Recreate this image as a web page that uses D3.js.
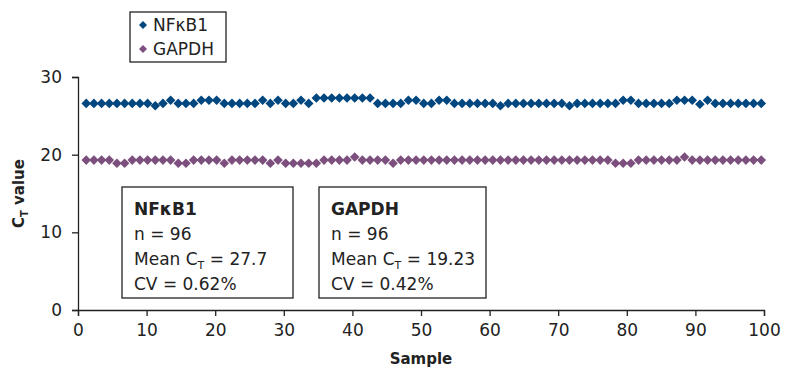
<!DOCTYPE html>
<html>
<head>
<meta charset="utf-8">
<script src="https://cdn.jsdelivr.net/npm/d3@7"></script>
<style>
  body { margin: 0; background: #fff; }
  svg { display: block; font-family: "DejaVu Sans", sans-serif; }
</style>
</head>
<body>
<div id="chart"></div>
<script>
// data: one point per sample, CT values
let nfkb1 = [
    26.6, 26.6, 26.6, 26.6, 26.6, 26.6, 26.6, 26.6, 26.6, 26.3,
    26.6, 27.0, 26.6, 26.6, 26.6, 27.0, 27.0, 27.0, 26.6, 26.6,
    26.6, 26.6, 26.6, 27.0, 26.6, 27.0, 26.6, 26.6, 27.0, 26.6,
    27.3, 27.3, 27.3, 27.3, 27.3, 27.3, 27.3, 27.3, 26.6, 26.6,
    26.6, 26.6, 27.0, 27.0, 26.6, 26.6, 27.0, 27.0, 26.6, 26.6,
    26.6, 26.6, 26.6, 26.6, 26.3, 26.6, 26.6, 26.6, 26.6, 26.6,
    26.6, 26.6, 26.6, 26.3, 26.6, 26.6, 26.6, 26.6, 26.6, 26.6,
    27.0, 27.0, 26.6, 26.6, 26.6, 26.6, 26.6, 27.0, 27.0, 27.0,
    26.5, 27.0, 26.6, 26.6, 26.6, 26.6, 26.6, 26.6, 26.6
];
let gapdh = [
    19.3, 19.3, 19.3, 19.3, 18.9, 18.9, 19.3, 19.3, 19.3, 19.3,
    19.3, 19.3, 18.9, 18.9, 19.3, 19.3, 19.3, 19.3, 18.9, 19.3,
    19.3, 19.3, 19.3, 19.3, 18.9, 19.3, 18.9, 18.9, 18.9, 18.9,
    18.9, 19.3, 19.3, 19.3, 19.3, 19.7, 19.3, 19.3, 19.3, 19.3,
    18.9, 19.3, 19.3, 19.3, 19.3, 19.3, 19.3, 19.3, 19.3, 19.3,
    19.3, 19.3, 19.3, 19.3, 19.3, 19.3, 19.3, 19.3, 19.3, 19.3,
    19.3, 19.3, 19.3, 19.3, 19.3, 19.3, 19.3, 19.3, 19.3, 18.9,
    18.9, 18.9, 19.3, 19.3, 19.3, 19.3, 19.3, 19.3, 19.7, 19.3,
    19.3, 19.3, 19.3, 19.3, 19.3, 19.3, 19.3, 19.3, 19.3
];
let samples = nfkb1.map((d, i) => i + 1);

// first and last plotted point on the sample axis
let sampleSpan = [1.2, 99.6];

let xTicks = [0, 10, 20, 30, 40, 50, 60, 70, 80, 90, 100];
let yTicks = [0, 10, 20, 30];

let series = [
    { name: "NF\u03BAB1", values: nfkb1, color: "#00467f" },
    { name: "GAPDH", values: gapdh, color: "#7d4f7e" }
];

let statBoxes = [
    { title: "NF\u03BAB1", n: 96, mean: "27.7", cv: "0.62%" },
    { title: "GAPDH", n: 96, mean: "19.23", cv: "0.42%" }
];

let width = 792;
let height = 372;
let margin = { left: 78, right: 28, top: 77, bottom: 62 };
let ink = "#222";

let svg = d3.select("#chart")
    .append("svg")
    .attr("width", width)
    .attr("height", height);

let x = d3.scaleLinear()
    .domain([0, 100])
    .range([margin.left, width - margin.right]);

let y = d3.scaleLinear()
    .domain([0, 30])
    .range([height - margin.bottom, margin.top]);

// samples are spread evenly over the plotted span
let sx = d3.scaleLinear()
    .domain([1, samples.length])
    .range([x(sampleSpan[0]), x(sampleSpan[1])]);

/********
 * AXES *
 ********/

let xAxis = svg.append("g")
    .attr("transform", "translate(0," + y(0) + ")")
    .call(d3.axisBottom(x).tickValues(xTicks).tickSize(6).tickPadding(8));

let yAxis = svg.append("g")
    .attr("transform", "translate(" + x(0) + ",0)")
    .call(d3.axisLeft(y).tickValues(yTicks).tickSize(6).tickPadding(10));

[xAxis, yAxis].forEach(function(a) {
    a.select(".domain").attr("stroke", ink).attr("stroke-width", 1.3);
    a.selectAll(".tick line").attr("stroke", ink).attr("stroke-width", 1.3);
    a.selectAll(".tick text")
        .attr("fill", ink)
        .style("font-size", "17px")
        .style("font-family", "DejaVu Sans, sans-serif");
});

svg.append("text")
    .attr("x", (x(0) + x(100)) / 2)
    .attr("y", 364)
    .attr("text-anchor", "middle")
    .style("font-size", "15px")
    .style("font-weight", "bold")
    .attr("fill", ink)
    .text("Sample");

let yTitle = svg.append("text")
    .attr("transform", "translate(24," + y(15) + ") rotate(-90)")
    .attr("text-anchor", "middle")
    .style("font-size", "15px")
    .style("font-weight", "bold")
    .attr("fill", ink);
yTitle.append("tspan").text("C");
yTitle.append("tspan").attr("dy", 4).style("font-size", "10px").text("T");
yTitle.append("tspan").attr("dy", -4).text(" value");

/**********
 * POINTS *
 **********/

let diamond = d3.symbol().type(d3.symbolSquare).size(46);

series.forEach(function(s) {
    svg.append("g")
        .selectAll("path")
        .data(s.values)
        .enter()
        .append("path")
        .attr("d", diamond)
        .attr("fill", s.color)
        .attr("transform", function(d, i) {
            return "translate(" + sx(samples[i]) + "," + y(d) + ") rotate(45)";
        });
});

/**********
 * LEGEND *
 **********/

let legend = svg.append("g").attr("transform", "translate(130,12)");

legend.append("rect")
    .attr("width", 96)
    .attr("height", 50)
    .attr("fill", "#fff")
    .attr("stroke", ink)
    .attr("stroke-width", 1.3);

series.forEach(function(s, i) {
    let row = legend.append("g").attr("transform", "translate(0," + (13 + i * 24) + ")");
    row.append("path")
        .attr("d", d3.symbol().type(d3.symbolSquare).size(32))
        .attr("fill", s.color)
        .attr("transform", "translate(13,0) rotate(45)");
    row.append("text")
        .attr("x", 23)
        .attr("y", 6)
        .style("font-size", "17px")
        .attr("fill", ink)
        .text(s.name);
});

/*************
 * STAT BOXES *
 *************/

let boxX = [122, 319];
let boxW = [171, 167];

statBoxes.forEach(function(b, i) {
    let g = svg.append("g").attr("transform", "translate(" + boxX[i] + ",187)");
    g.append("rect")
        .attr("width", boxW[i])
        .attr("height", 111)
        .attr("fill", "#fff")
        .attr("stroke", ink)
        .attr("stroke-width", 1.3);

    let tx = 12;
    g.append("text")
        .attr("x", tx).attr("y", 28)
        .style("font-size", "17px")
        .style("font-weight", "bold")
        .attr("fill", ink)
        .text(b.title);
    g.append("text")
        .attr("x", tx).attr("y", 53)
        .style("font-size", "17px")
        .attr("fill", ink)
        .text("n = " + b.n);
    let mean = g.append("text")
        .attr("x", tx).attr("y", 78)
        .style("font-size", "17px")
        .attr("fill", ink);
    mean.append("tspan").text("Mean C");
    mean.append("tspan").attr("dy", 4).style("font-size", "11px").text("T");
    mean.append("tspan").attr("dy", -4).text(" = " + b.mean);
    g.append("text")
        .attr("x", tx).attr("y", 103)
        .style("font-size", "17px")
        .attr("fill", ink)
        .text("CV = " + b.cv);
});
</script>
</body>
</html>
